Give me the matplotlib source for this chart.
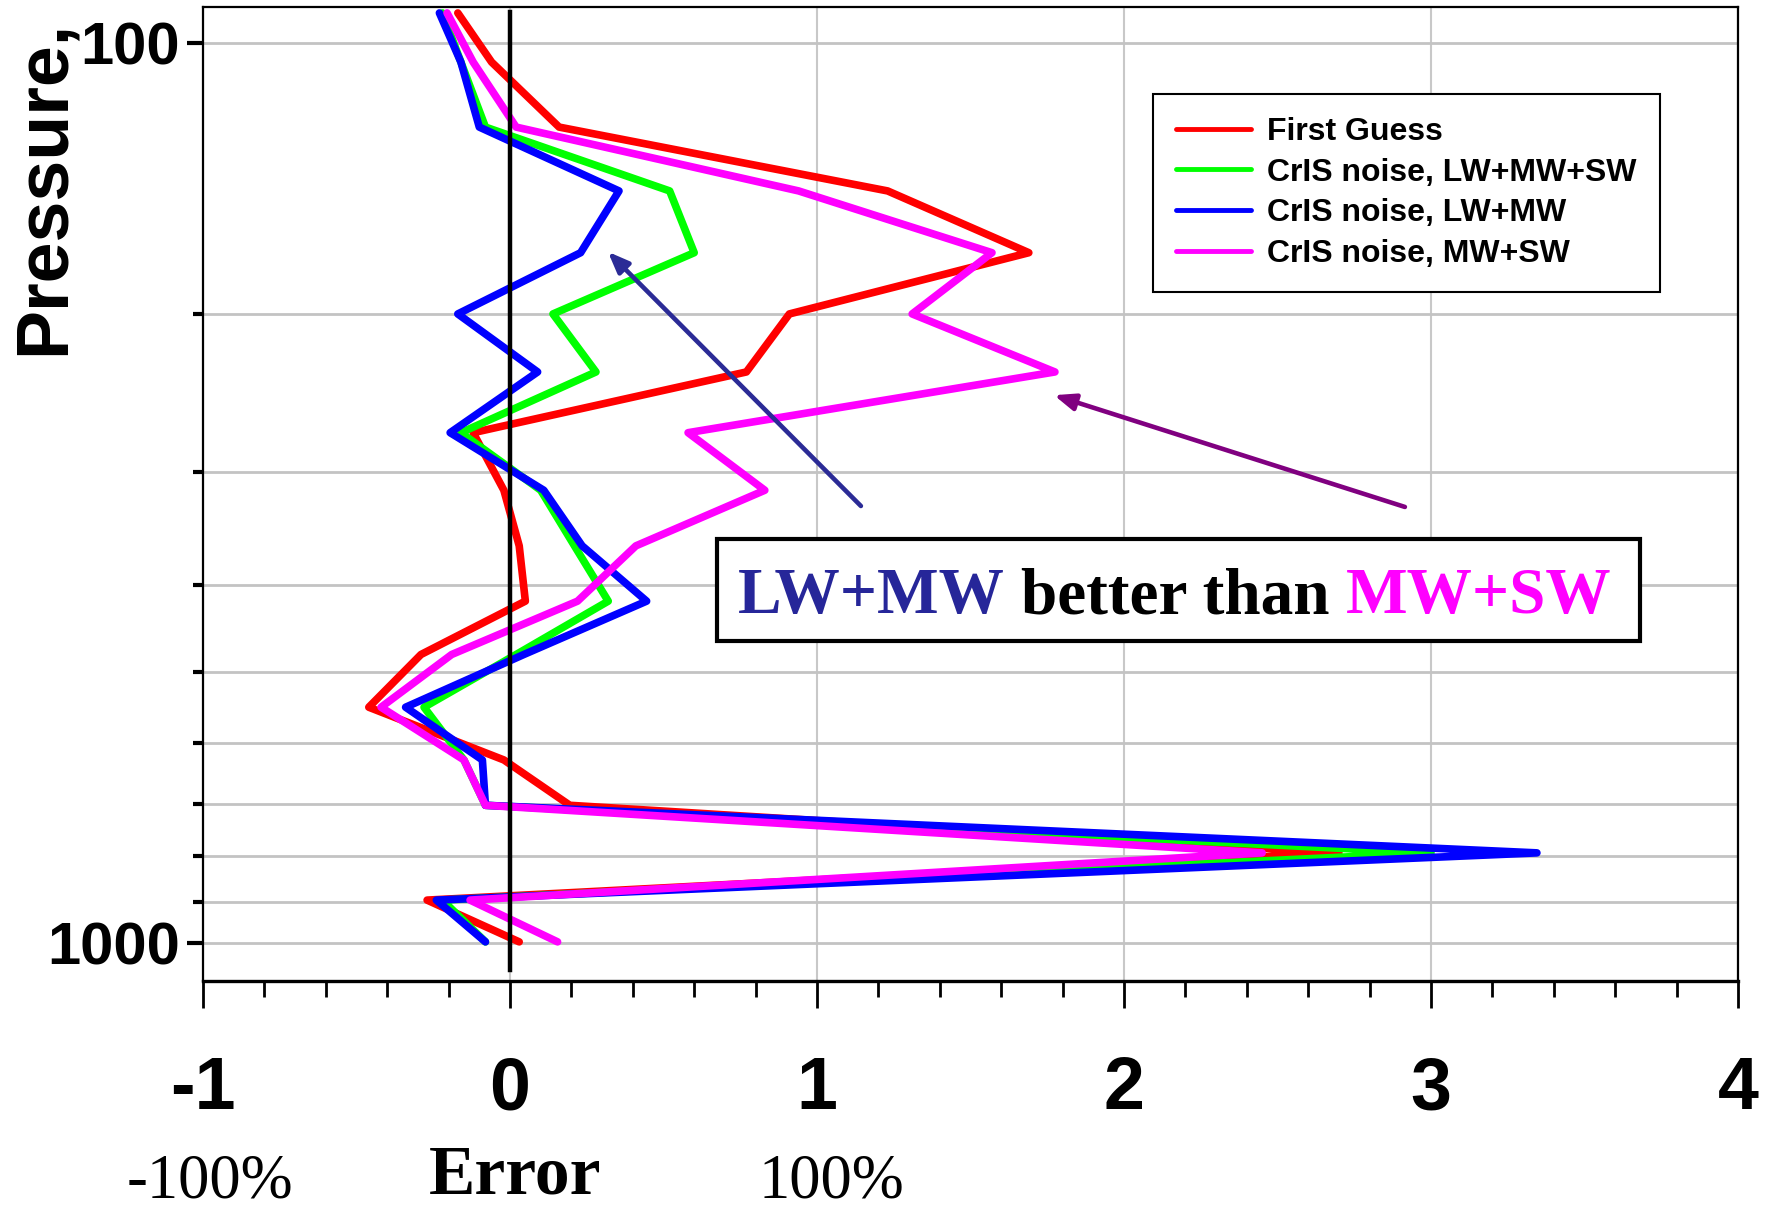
import matplotlib
matplotlib.use("Agg")
import matplotlib.pyplot as plt
from matplotlib import font_manager
from matplotlib.patches import Rectangle
from matplotlib.ticker import FixedLocator, FixedFormatter, MultipleLocator, NullFormatter

# pressure levels (hPa) and relative errors
pressure = [92.6, 105, 124, 146, 171, 200, 232, 271, 314, 362, 417, 478, 547, 626, 703, 794, 896, 997]
first_guess = [-0.17, -0.06, 0.16, 1.23, 1.69, 0.91, 0.77, -0.12, -0.02, 0.03, 0.05, -0.29,
               -0.46, -0.02, 0.195, 2.70, -0.27, 0.03]
cris_lw_mw_sw = [-0.22, -0.16, -0.08, 0.52, 0.60, 0.14, 0.28, -0.16, 0.10, 0.21, 0.32, 0.02,
                 -0.28, -0.15, -0.08, 3.00, -0.22, -0.08]
cris_lw_mw = [-0.23, -0.16, -0.10, 0.355, 0.23, -0.17, 0.09, -0.195, 0.11, 0.235, 0.445, 0.045,
              -0.34, -0.09, -0.08, 3.345, -0.24, -0.08]
cris_mw_sw = [-0.205, -0.12, 0.02, 0.94, 1.57, 1.31, 1.775, 0.58, 0.83, 0.41, 0.22, -0.19,
              -0.42, -0.15, -0.08, 2.45, -0.13, 0.155]

series = [
    ("First Guess", first_guess, "#ff0000"),
    ("CrIS noise, LW+MW+SW", cris_lw_mw_sw, "#00ff00"),
    ("CrIS noise, LW+MW", cris_lw_mw, "#0000ff"),
    ("CrIS noise, MW+SW", cris_mw_sw, "#ff00ff"),
]

x_ticks = [-1, 0, 1, 2, 3, 4]
x_labels = ["-1", "0", "1", "2", "3", "4"]
y_major = [100, 1000]
y_major_labels = ["100", "1000"]
y_minor = [200, 300, 400, 500, 600, 700, 800, 900]


def has_font(name):
    try:
        font_manager.findfont(font_manager.FontProperties(family=name), fallback_to_default=False)
        return True
    except ValueError:
        return False


sans = "Liberation Sans"
serif = "Liberation Serif"
narrow = "Liberation Sans Narrow" if has_font("Liberation Sans Narrow") else sans

plt.rcParams["font.family"] = [sans, "DejaVu Sans"]
plt.rcParams["font.weight"] = "bold"
plt.rcParams["axes.unicode_minus"] = False

fig = plt.figure(figsize=(17.88, 12.09), dpi=100)
ax = fig.add_axes([203 / 1788, 1 - 981 / 1209, 1535 / 1788, 974 / 1209])

for name, vals, col in series:
    ax.plot(vals, pressure, color=col, lw=5.5, label=name, zorder=2,
            solid_joinstyle="round", solid_capstyle="round")

# zero line
ax.axvline(0, ymin=0.0113, ymax=0.995, color="black", lw=3.2, zorder=3)

ax.set_yscale("log")
ax.set_ylim(1102, 91.2)
ax.set_xlim(-1, 4)

ax.yaxis.set_major_locator(FixedLocator(y_major))
ax.yaxis.set_major_formatter(FixedFormatter(y_major_labels))
ax.yaxis.set_minor_locator(FixedLocator(y_minor))
ax.yaxis.set_minor_formatter(NullFormatter())
ax.xaxis.set_major_locator(FixedLocator(x_ticks))
ax.xaxis.set_major_formatter(FixedFormatter(x_labels))
ax.xaxis.set_minor_locator(MultipleLocator(0.2))

ax.grid(which="both", axis="y", color="#c3c3c3", lw=2.0, zorder=1)
ax.grid(which="major", axis="x", color="#c8c8c8", lw=1.5, zorder=1)
ax.set_axisbelow(True)

ax.tick_params(axis="x", which="major", direction="out", length=19.5, width=2, pad=34, labelsize=53)
ax.tick_params(axis="x", which="minor", direction="out", length=11.5, width=2)
ax.tick_params(axis="y", which="major", direction="out", length=11.5, width=3, pad=5)
ax.tick_params(axis="y", which="minor", direction="out", length=7, width=3)
for t in ax.get_yticklabels():
    t.set_family(narrow)
    t.set_fontsize(50 if narrow != sans else 43)
    t.set_fontweight("bold")

for side in ["left", "right", "top"]:
    ax.spines[side].set_linewidth(1.6)
ax.spines["bottom"].set_linewidth(2.4)

leg = ax.legend(loc="upper left", bbox_to_anchor=(0.619, 0.911), borderaxespad=0,
                fancybox=False, edgecolor="black", framealpha=1,
                prop=dict(family=sans, weight="bold", size=23),
                handlelength=2.35, handletextpad=0.5, labelspacing=0.34, borderpad=0.72)
leg.get_frame().set_linewidth(1.5)
leg.set_zorder(6)
for h in leg.legend_handles:
    h.set_linewidth(3.5)

# arrows
arrow_style = "-|>,head_length=0.5,head_width=0.2"
ax.annotate("", xy=(0.319, 170.6), xytext=(1.143, 326.9),
            arrowprops=dict(arrowstyle=arrow_style, color="#2b2b96",
                            lw=3.3, mutation_scale=25, shrinkA=0, shrinkB=0), zorder=4)
ax.annotate("", xy=(1.772, 246.2), xytext=(2.915, 327.7),
            arrowprops=dict(arrowstyle=arrow_style, color="#800080",
                            lw=3.3, mutation_scale=25, shrinkA=0, shrinkB=0), zorder=4)

# y label
fig.text(44 / 1788, 1 - 20 / 1209, "Pressure,", rotation=90, ha="center", va="top",
         fontsize=53, fontweight="bold", family=sans)

# bottom labels
fig.text(210 / 1788, 1 - 1197 / 1209, "-100%", ha="center", va="baseline",
         fontsize=45, fontweight="normal", family=serif)
fig.text(515 / 1788, 1 - 1194 / 1209, "Error", ha="center", va="baseline",
         fontsize=50, fontweight="bold", family=serif)
fig.text(831 / 1788, 1 - 1197 / 1209, "100%", ha="center", va="baseline",
         fontsize=45, fontweight="normal", family=serif)

# boxed note with coloured words
box = Rectangle((717 / 1788, 1 - 641 / 1209), 923 / 1788, 102 / 1209, transform=fig.transFigure,
                facecolor="white", edgecolor="black", lw=3, zorder=4)
fig.add_artist(box)

pieces = [("LW+MW", "#262699"), ("better than", "black"), ("MW+SW", "#ff00ff")]
fig.canvas.draw()
renderer = fig.canvas.get_renderer()
x = 738 / 1788
y = 1 - 613 / 1209
space = 0.25 * 47 * 100 / 72 / 1788
for word, col in pieces:
    t = fig.text(x, y, word, color=col, ha="left", va="baseline", fontsize=47,
                 fontweight="bold", family=serif, zorder=5)
    bb = t.get_window_extent(renderer)
    x = bb.x1 / fig.bbox.width + space

fig.savefig("out.png", dpi=100)
